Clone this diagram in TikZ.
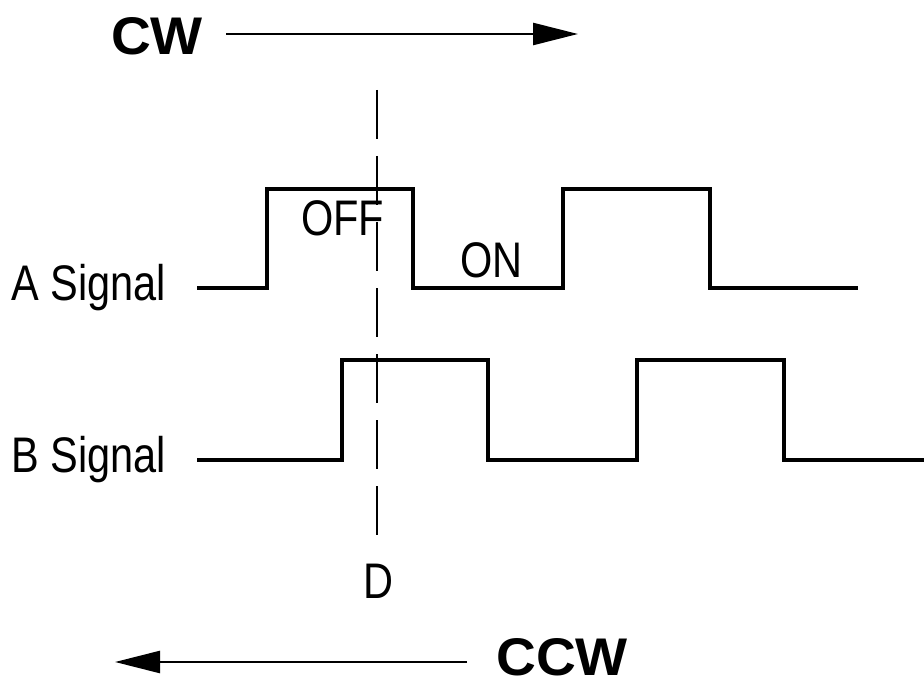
\documentclass[tikz,border=0pt]{standalone}
\usepackage{fontspec}
\setmainfont{Liberation Sans}
\newfontfamily\condfont{Liberation Sans}[FakeStretch=0.83]
\newfontfamily\widefont{Liberation Sans}[FakeStretch=1.04]
\usetikzlibrary{arrows.meta}
\begin{document}
\begin{tikzpicture}[x=1pt,y=-1pt,
  sig/.style={line width=4.8pt, line join=miter},
  lbl/.style={font=\condfont\fontsize{50}{60}\selectfont, inner sep=0pt, anchor=base west},
  dirlbl/.style={font=\widefont\bfseries\fontsize{53}{63}\selectfont, inner sep=0pt, text depth=0pt, anchor=base west},
  dirarrow/.style={line width=2.5pt, -{Triangle[length=45pt,width=22pt]}},
  dline/.style={line width=2.5pt, dash pattern=on 49pt off 17pt}]
\useasboundingbox (0,0) rectangle (924,687);
% direction labels and arrows
\node[dirlbl] (cw) at (111,55) {CW};
\coordinate (cwstart) at (226,34);
\coordinate (cwend) at (578,34);
\draw[dirarrow] (cwstart) -- (cwend);
\node[dirlbl] (ccw) at (496,675) {CCW};
\coordinate (ccwstart) at (467,662);
\coordinate (ccwend) at (115,662);
\draw[dirarrow] (ccwstart) -- (ccwend);
% signal labels
\node[lbl] (alabel) at (11,301) {A Signal};
\node[lbl] (blabel) at (11,472) {B Signal};
\node[lbl] (off) at (301,236) {OFF};
\node[lbl] (on) at (460,278) {ON};
\node[lbl, anchor=base] (d) at (378,598) {D};
% dashed line
\coordinate (dtop) at (377,90);
\coordinate (dbot) at (377,542);
\draw[dline] (dtop) -- (dbot);
% A signal
\draw[sig] (197,288) -- (267,288) -- (267,189) -- (413,189) -- (413,288) -- (563,288) -- (563,189) -- (710,189) -- (710,288) -- (858,288);
% B signal
\draw[sig] (197,460) -- (342,460) -- (342,360) -- (488,360) -- (488,460) -- (637,460) -- (637,360) -- (784,360) -- (784,460) -- (924,460);
\end{tikzpicture}
\end{document}
